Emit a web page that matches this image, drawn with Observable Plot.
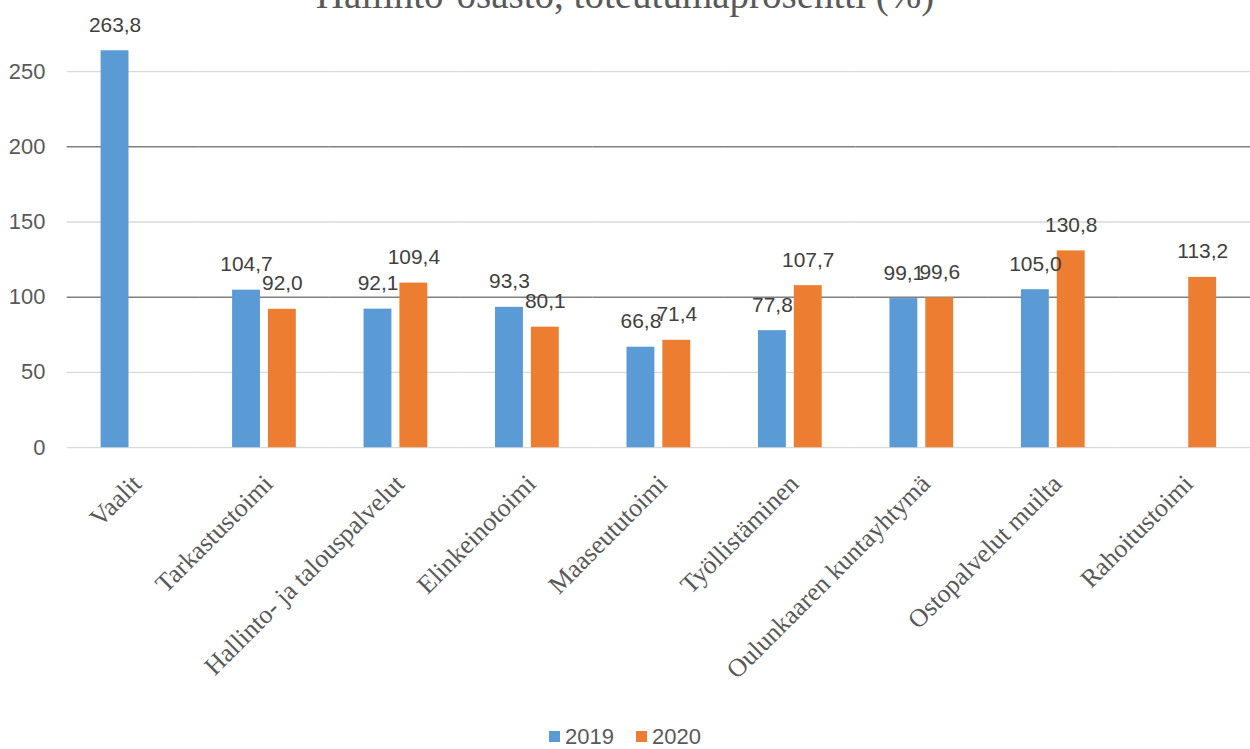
<!DOCTYPE html>
<html><head><meta charset="utf-8">
<script src="https://cdn.jsdelivr.net/npm/d3@7"></script>
<script src="https://cdn.jsdelivr.net/npm/@observablehq/plot@0.6"></script>
<style>
html,body{margin:0;padding:0;background:#fff;overflow:hidden;width:1250px;height:749px}
#wrap{position:relative;width:1250px;height:749px;overflow:hidden}
#title{position:absolute;left:0;width:1250px;top:-25px;text-align:center;font-family:"Liberation Serif",serif;font-size:39px;line-height:1;color:#595959;white-space:nowrap}
#chart{position:absolute;left:0;top:0}
#legend{position:absolute;top:725px;left:0;width:1250px;display:flex;justify-content:center;gap:22px;font-family:"Liberation Sans",sans-serif;font-size:22px;color:#595959;line-height:24px}
.sw{display:inline-block;width:11px;height:11px;margin-right:5px;vertical-align:2px}
</style></head><body>
<div id="wrap"><div id="chart"></div><div id="title">Hallinto-osasto, toteutumaprosentti (%)</div><div id="legend"></div></div>
<script>
const categories = ["Vaalit","Tarkastustoimi","Hallinto- ja talouspalvelut","Elinkeinotoimi","Maaseututoimi","Työllistäminen","Oulunkaaren kuntayhtymä","Ostopalvelut muilta","Rahoitustoimi"];
const years = ["2019","2020"];
const values2019 = [263.8, 104.7, 92.1, 93.3, 66.8, 77.8, 99.1, 105.0, null];
const values2020 = [null, 92.0, 109.4, 80.1, 71.4, 107.7, 99.6, 130.8, 113.2];
const yTicks = [0, 50, 100, 150, 200, 250];
const darkGrid = [100, 200];
const colors = ["#5B9BD5", "#ED7D31"];

const rows = [];
categories.forEach((c, i) => {
  if (values2019[i] != null) rows.push({cat: c, year: years[0], value: values2019[i]});
  if (values2020[i] != null) rows.push({cat: c, year: years[1], value: values2020[i]});
});
const fmt = v => d3.format(".1f")(v).replace(".", ",");

const chart = Plot.plot({
  width: 1255, height: 715,
  marginLeft: 67, marginRight: 0, marginTop: 26, marginBottom: 266,
  style: {fontFamily: "Liberation Sans, sans-serif", fontSize: "20px", color: "#595959", background: "transparent"},
  fx: {domain: categories, padding: 0, label: null},
  x: {domain: years, axis: null, paddingInner: 0.216, paddingOuter: 0.892},
  y: {domain: [0, 280], label: null},
  color: {domain: years, range: colors},
  marks: [
    Plot.ruleY(yTicks.filter(d => !darkGrid.includes(d)), {stroke: "#d9d9d9", strokeWidth: 1.3}),
    Plot.ruleY(darkGrid, {stroke: "#808080", strokeWidth: 1.3}),
    Plot.barY(rows, {fx: "cat", x: "year", y: "value", fill: "year"}),
    Plot.text(rows, {fx: "cat", x: "year", y: "value", text: d => fmt(d.value), dy: -19, lineAnchor: "bottom", textAnchor: "middle", fill: "#404040", fontSize: 21, fontFamily: "Liberation Sans, sans-serif"}),
    Plot.axisY({ticks: yTicks, tickSize: 0, tickPadding: 22, label: null, fill: "#595959", fontSize: 22, tickFormat: d => d}),
    Plot.axisFx({anchor: "bottom", tickRotate: -45, tickSize: 0, tickPadding: 32, dx: 4, label: null, fill: "#595959", fontSize: 26, fontFamily: "Liberation Serif, serif"})
  ]
});
document.getElementById("chart").appendChild(chart);

const legend = document.getElementById("legend");
years.forEach((y, i) => {
  const item = document.createElement("span");
  item.innerHTML = `<span class="sw" style="background:${colors[i]}"></span>${y}`;
  legend.appendChild(item);
});
</script>
</body></html>
